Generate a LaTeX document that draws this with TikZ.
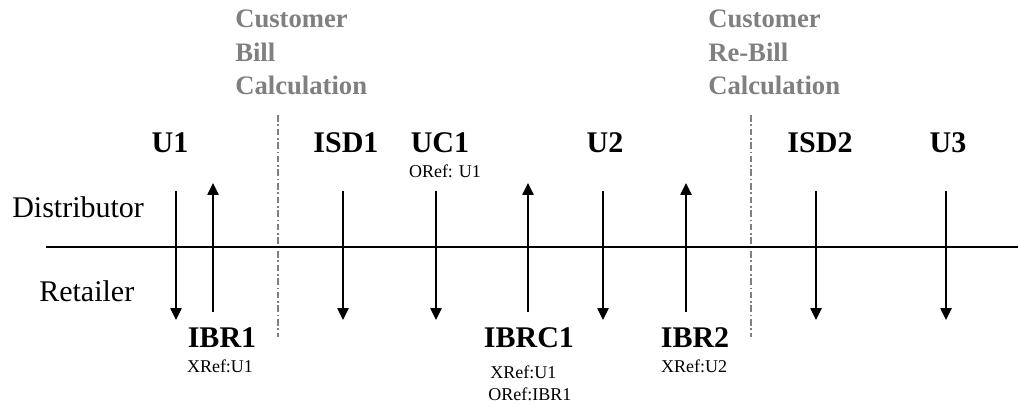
\documentclass[tikz,border=0pt]{standalone}
\usepackage{fontspec}
\setmainfont{Liberation Serif}
\usetikzlibrary{arrows.meta}
\definecolor{calcgray}{HTML}{808080}
\begin{document}
\begin{tikzpicture}[x=0.75pt,y=-0.75pt,
  lbl/.style={font=\fontsize{22.5}{27}\selectfont\bfseries, inner sep=0, anchor=base},
  role/.style={font=\fontsize{22.5}{27}\selectfont, inner sep=0, anchor=base west},
  refl/.style={font=\fontsize{13.5}{16}\selectfont, inner sep=0, anchor=base},
  refw/.style={font=\fontsize{13.5}{16}\selectfont, inner sep=0, anchor=base west},
  calc/.style={font=\fontsize{20}{25}\selectfont\bfseries, text=calcgray, align=left, inner sep=0, anchor=north west},
  msg/.style={line width=1.1pt, -{Triangle[length=9pt,width=8.5pt]}},
  sepline/.style={draw=calcgray, line width=0.9pt, dash pattern=on 5pt off 2pt on 1.2pt off 2pt},
  axisline/.style={line width=1.1pt}]
\useasboundingbox (0,0) rectangle (1018,406);

% phase labels
\node[calc] (cbc) at (235,10) {Customer\\Bill\\Calculation};
\node[calc] (crbc) at (708,10) {Customer\\Re-Bill\\Calculation};

% separators
\coordinate (s1t) at (278,115); \coordinate (s1b) at (278,337);
\coordinate (s2t) at (751,115); \coordinate (s2b) at (751,337);
\draw[sepline] (s1t) -- (s1b);
\draw[sepline] (s2t) -- (s2b);

% party line
\coordinate (ll) at (46,247); \coordinate (lr) at (1018,247);
\draw[axisline] (ll) -- (lr);
\node[role] (dist) at (12,218) {Distributor};
\node[role] (ret) at (39,301) {Retailer};

% top labels
\node[lbl] (u1) at (170,153) {U1};
\node[lbl] (isd1) at (346,153) {ISD1};
\node[lbl] (uc1) at (440,153) {UC1};
\node[refl] (uc1r) at (445,178) {ORef: U1};
\node[lbl] (u2) at (605,153) {U2};
\node[lbl] (isd2) at (820,153) {ISD2};
\node[lbl] (u3) at (948,153) {U3};

% bottom labels
\node[lbl] (ibr1) at (222,347) {IBR1};
\node[refl] (ibr1r) at (220,372) {XRef:U1};
\node[lbl] (ibrc1) at (529,347) {IBRC1};
\node[refw] (ibrc1x) at (490,378) {XRef:U1};
\node[refw] (ibrc1o) at (488,400) {ORef:IBR1};
\node[lbl] (ibr2) at (695,347) {IBR2};
\node[refl] (ibr2r) at (694,372) {XRef:U2};

% down arrows
\foreach \n/\x in {du1/176, disd1/343, duc1/436, du2/603, disd2/816, du3/946} {
  \coordinate (\n s) at (\x,191);
  \coordinate (\n e) at (\x,320);
  \draw[msg] (\n s) -- (\n e);
}
% up arrows
\foreach \n/\x in {uibr1/213, uibrc1/528, uibr2/686} {
  \coordinate (\n s) at (\x,312);
  \coordinate (\n e) at (\x,183);
  \draw[msg] (\n s) -- (\n e);
}
\end{tikzpicture}
\end{document}
